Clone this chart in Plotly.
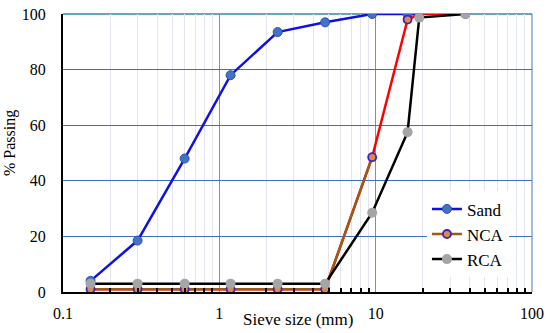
import plotly.graph_objects as go

# ---- data ----
sieve_sizes = [0.15, 0.3, 0.6, 1.18, 2.36, 4.75, 9.5, 16, 19, 37.5]
sand_sizes = [0.15, 0.3, 0.6, 1.18, 2.36, 4.75, 9.5, 16, 19]
sand_pass = [4, 18.5, 48, 78, 93.5, 97, 100, 100, 100]
nca_pass = [1, 1, 1, 1, 1, 1, 48.5, 98, 100, 100]
rca_pass = [3, 3, 3, 3, 3, 3, 28.5, 57.5, 98.7, 100]
x_tick_vals = [0.1, 1, 10, 100]
x_tick_text = ["0.1", "1", "10", "100"]
y_tick_vals = [0, 20, 40, 60, 80, 100]

minor_vals = [m * 10 ** e for e in (-1, 0, 1) for m in range(2, 10)]

SERIF = "Liberation Serif"

fig = go.Figure()

# red upper part of NCA curve (no legend)
fig.add_trace(go.Scatter(
    x=sieve_sizes, y=nca_pass, mode="lines",
    line=dict(color="#FF0000", width=2.5), showlegend=False, hoverinfo="skip"))

fig.add_trace(go.Scatter(
    x=sand_sizes, y=sand_pass, name="Sand", mode="lines+markers",
    line=dict(color="#1010E0", width=2.5),
    marker=dict(size=9, color="#4472C4", line=dict(color="#2A4FB0", width=1)),
    legendrank=1))

nca_low_x = [s for s in sieve_sizes if s <= 9.5]
nca_low_y = nca_pass[:len(nca_low_x)]
fig.add_trace(go.Scatter(
    x=nca_low_x, y=nca_low_y, name="NCA", mode="lines+markers",
    line=dict(color="#9B5A1A", width=2.5),
    marker=dict(size=8, color="#E08A3C", line=dict(color="#3A22C8", width=1.8)),
    legendrank=2))
fig.add_trace(go.Scatter(
    x=sieve_sizes[len(nca_low_x):], y=nca_pass[len(nca_low_x):], mode="markers",
    marker=dict(size=8, color="#E08A3C", line=dict(color="#3A22C8", width=1.8)),
    showlegend=False, hoverinfo="skip"))

fig.add_trace(go.Scatter(
    x=sieve_sizes, y=rca_pass, name="RCA", mode="lines+markers",
    line=dict(color="#000000", width=2.5),
    marker=dict(size=10, color="#A5A5A5"),
    legendrank=3))

fig.update_layout(
    width=550, height=333,
    margin=dict(l=63, r=18, t=14, b=41, autoexpand=False),
    paper_bgcolor="white", plot_bgcolor="white",
    font=dict(family=SERIF, size=16, color="black"),
    showlegend=True,
    legend=dict(x=0.776, y=0.362, xanchor="left", yanchor="top",
                bgcolor="white", font=dict(family=SERIF, size=17),
                itemwidth=30, tracegroupgap=0),
    xaxis=dict(
        type="log", range=[-1, 2], automargin=False,
        tickmode="array", tickvals=x_tick_vals, ticktext=x_tick_text,
        showgrid=True, gridcolor="#6F8FD6", gridwidth=1,
        showline=True, linecolor="black", linewidth=2,
        ticks="", ticklabelstandoff=6,
        tickfont=dict(family=SERIF, size=16),
        minor=dict(tickmode="array", tickvals=minor_vals, ticks="inside",
                   ticklen=4, tickcolor="black", tickwidth=1.5,
                   showgrid=True, gridcolor="#E2E5F0", gridwidth=1),
        zeroline=False,
    ),
    yaxis=dict(
        range=[0, 100], tickmode="array", tickvals=y_tick_vals, automargin=False,
        showgrid=True, gridcolor="#3A72B8", gridwidth=1.3,
        showline=True, linecolor="black", linewidth=2,
        ticks="", ticklabelstandoff=12,
        tickfont=dict(family=SERIF, size=16),
        zeroline=False,
    ),
    annotations=[
        dict(text="Sieve size (mm)", xref="paper", yref="paper",
             x=0.5, y=-0.10, xanchor="center", yanchor="middle",
             showarrow=False, font=dict(family=SERIF, size=17)),
        dict(text="% Passing", xref="paper", yref="paper",
             x=-0.113, y=0.536, xanchor="center", yanchor="middle",
             textangle=-90, showarrow=False, font=dict(family=SERIF, size=16)),
    ],
    shapes=[
        dict(type="line", xref="paper", yref="paper", x0=1, x1=1, y0=0, y1=1,
             line=dict(color="#8AA2DA", width=1.5), layer="below"),
        dict(type="line", xref="paper", yref="paper", x0=0, x1=1, y0=1, y1=1,
             line=dict(color="#2E8AAA", width=1.5), layer="below"),
    ],
)

fig.write_html("out.html", config={"displayModeBar": False},
               post_script="document.body.style.margin='0';document.body.style.padding='0';")
